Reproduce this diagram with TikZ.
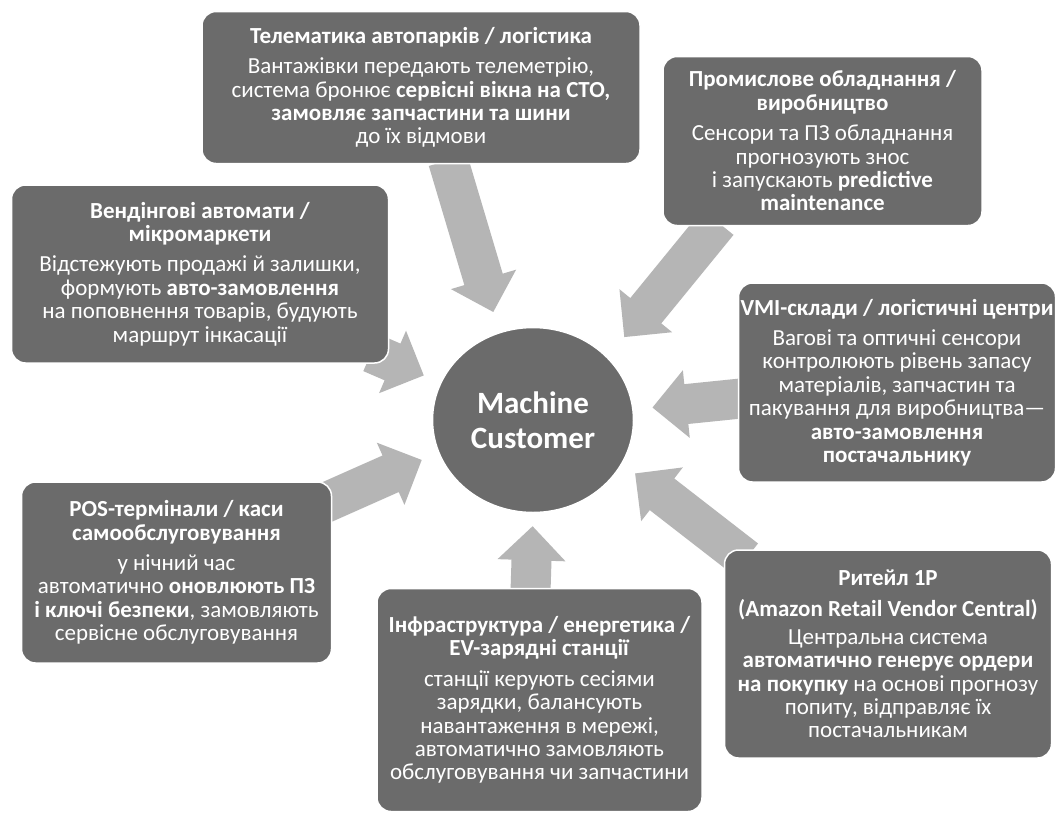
\documentclass[tikz,border=0pt]{standalone}
\usepackage{fontspec}
\setmainfont{Carlito}
\usepackage{xcolor}
\definecolor{boxgray}{HTML}{6B6B6B}
\definecolor{flowgray}{HTML}{B5B5B5}
\usepackage{tikz}
\usetikzlibrary{positioning, calc, backgrounds, shapes.geometric}

% fat grey arrow: tail, target point on the hub, gap before the hub
\newcommand{\blockarrow}[3]{%
  \coordinate (bt) at (#1);
  \coordinate (bh) at ($(#2)!#3!(bt)$);
  \coordinate (bb) at ($(bh)!34pt!(bt)$);
  \fill[flowgray] ($(bt)!20pt!90:(bh)$) -- ($(bb)!20pt!90:(bh)$)
    -- ($(bb)!34pt!90:(bh)$) -- (bh) -- ($(bb)!34pt!-90:(bh)$)
    -- ($(bb)!20pt!-90:(bh)$) -- ($(bt)!20pt!-90:(bh)$) -- cycle;
}

\begin{document}
\begin{tikzpicture}[
  usecase/.style={draw=white, line width=1.5pt, fill=boxgray,
    rounded corners=14pt, text=white, align=center, inner sep=2pt,
    font=\fontsize{23}{23.4}\selectfont},
  hub/.style={ellipse, draw=white, line width=1.5pt, fill=boxgray,
    minimum width=201pt, minimum height=185pt, inner sep=0pt,
    text=white, align=center, font=\fontsize{31}{35}\selectfont\bfseries}]

  \useasboundingbox (0,0) rectangle (1055pt,-820pt);

  \node[hub] (mc) at (533pt,-420pt) {Machine\\Customer};

  \node[usecase, minimum width=438pt, minimum height=152pt,
        above=162.5pt of mc, xshift=-112pt] (tele)
    {\textbf{Телематика автопарків / логістика}\\[7pt]
     Вантажівки передають телеметрію,\\
     система бронює \textbf{сервісні вікна на СТО,}\\
     \textbf{замовляє запчастини та шини}\\
     до їх відмови};

  \node[usecase, minimum width=319pt, minimum height=169pt,
        above=100.5pt of mc, xshift=289.5pt] (ind)
    {\textbf{Промислове обладнання /}\\
     \textbf{виробництво}\\[7pt]
     Сенсори та ПЗ обладнання\\
     прогнозують знос\\
     і запускають \textbf{predictive}\\
     \textbf{maintenance}};

  \node[usecase, minimum width=377pt, minimum height=178pt,
        left=42.5pt of mc, yshift=146pt] (vend)
    {\textbf{Вендінгові автомати /}\\
     \textbf{мікромаркети}\\[7pt]
     Відстежують продажі й залишки,\\
     формують \textbf{авто-замовлення}\\
     на поповнення товарів, будують\\
     маршрут інкасації};

  \node[usecase, minimum width=313pt, minimum height=199pt,
        right=103.5pt of mc, yshift=37.5pt] (vmi)
    {\textbf{VMI-склади / логістичні центри}\\[7pt]
     Вагові та оптичні сенсори\\
     контролюють рівень запасу\\
     матеріалів, запчастин та\\
     пакування для виробництва—\\
     \textbf{авто-замовлення}\\
     \textbf{постачальнику}};

  \node[usecase, minimum width=310pt, minimum height=181pt,
        left=99.5pt of mc, yshift=-152.5pt] (pos)
    {\textbf{POS-термінали / каси}\\
     \textbf{самообслуговування}\\[7pt]
     у нічний час\\
     автоматично \textbf{оновлюють ПЗ}\\
     \textbf{і ключі безпеки}, замовляють\\
     сервісне обслуговування};

  \node[usecase, minimum width=325pt, minimum height=223pt,
        below=74.5pt of mc, xshift=6.5pt] (infra)
    {\textbf{Інфраструктура / енергетика /}\\
     \textbf{EV-зарядні станції}\\[7pt]
     станції керують сесіями\\
     зарядки, балансують\\
     навантаження в мережі,\\
     автоматично замовляють\\
     обслуговування чи запчастини};

  \node[usecase, minimum width=327pt, minimum height=208pt,
        right=89.5pt of mc, yshift=-234pt] (retail)
    {\textbf{Ритейл 1P}\\[8pt]
     \textbf{(Amazon Retail Vendor Central)}\\[4pt]
     Центральна система\\
     \textbf{автоматично генерує ордери}\\
     \textbf{на покупку} на основі прогнозу\\
     попиту, відправляє їх\\
     постачальникам};

  \begin{pgfonlayer}{background}
    \fill[white] (0,0) rectangle (1055pt,-820pt);
    \blockarrow{[xshift=27pt,yshift=4pt]tele.south}{mc.111}{21pt}
    \blockarrow{[xshift=-104.5pt,yshift=4pt]ind.south}{mc.40}{26pt}
    \blockarrow{[xshift=-18pt,yshift=11pt]vend.south east}{mc.158}{18pt}
    \blockarrow{[xshift=8pt,yshift=-15.5pt]vmi.west}{mc.6}{19pt}
    \blockarrow{[xshift=-8pt,yshift=-22pt]pos.north east}{mc.199}{18pt}
    \blockarrow{[xshift=-9pt,yshift=-4pt]infra.north}{mc.270}{13pt}
    \blockarrow{[xshift=22pt,yshift=-10pt]retail.north west}{mc.334}{16pt}
  \end{pgfonlayer}

\end{tikzpicture}
\end{document}
